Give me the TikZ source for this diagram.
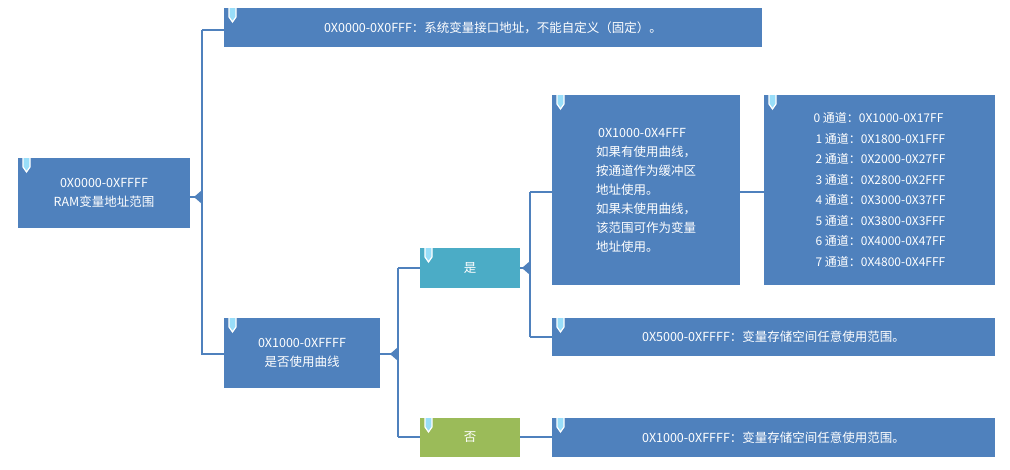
\documentclass[tikz,border=0pt]{standalone}
\usepackage{fontspec}
\setmainfont{Noto Sans CJK SC}
\begin{document}
\begin{tikzpicture}[x=1pt,y=-1pt,
  bx/.style={fill=blu,text=white,inner sep=0pt,font=\fontsize{12.5}{19}\selectfont,align=center},
  ln/.style={draw=blu,line width=1.6pt},
  ]
\definecolor{blu}{HTML}{4F81BD}
\definecolor{teal}{HTML}{4BACC6}
\definecolor{grn}{HTML}{9BBB59}
\useasboundingbox (0,0) rectangle (1010,469);
\newcommand{\pin}[2]{\draw[white,line width=1.2pt,fill=cyan!40!white] (#1+5,#2) -- (#1+5,#2+9) -- (#1+8.5,#2+14) -- (#1+12,#2+9) -- (#1+12,#2);}
\newcommand{\ptr}[3]{\fill[#3] (#1,#2-7) -- (#1-8,#2) -- (#1,#2+7) -- cycle;}
% lines
\draw[ln] (202,30) -- (202,355);
\draw[ln] (202,30) -- (224,30);
\draw[ln] (190,197) -- (202,197);
\draw[ln] (202,354) -- (224,354);
\draw[ln] (380,354) -- (398,354);
\draw[ln] (398,268) -- (398,437);
\draw[ln] (398,268) -- (420,268);
\draw[ln] (398,437) -- (420,437);
\draw[ln] (520,268) -- (530,268);
\draw[ln] (530,192) -- (530,337);
\draw[ln] (530,192) -- (552,192);
\draw[ln] (530,337) -- (552,337);
\draw[ln] (740,192) -- (764,192);
\draw[ln] (520,437) -- (552,437);
% boxes
\node[bx,minimum width=172,minimum height=70] (root) at (104,193) {0X0000-0XFFFF\\RAM变量地址范围};
\node[bx,minimum width=538,minimum height=39] (b1) at (493,27.5) {0X0000-0X0FFF：系统变量接口地址，不能自定义（固定）。};
\node[bx,minimum width=156,minimum height=70] (b2) at (302,353) {0X1000-0XFFFF\\是否使用曲线};
\node[bx,fill=teal,minimum width=100,minimum height=40] (yes) at (470,268) {是};
\node[bx,fill=grn,minimum width=100,minimum height=39] (no) at (470,437.5) {否};
\node[bx,minimum width=188,minimum height=190,align=left] (b3) at (646,190) {\,0X1000-0X4FFF\\如果有使用曲线，\\按通道作为缓冲区\\地址使用。\\如果未使用曲线，\\该范围可作为变量\\地址使用。};
\node[bx,minimum width=231,minimum height=190,align=left,font=\fontsize{12}{20.5}\selectfont] (b4) at (879.5,190) {0 通道：0X1000-0X17FF\\\,1 通道：0X1800-0X1FFF\\\,2 通道：0X2000-0X27FF\\\,3 通道：0X2800-0X2FFF\\\,4 通道：0X3000-0X37FF\\\,5 通道：0X3800-0X3FFF\\\,6 通道：0X4000-0X47FF\\\,7 通道：0X4800-0X4FFF};
\node[bx,minimum width=443,minimum height=38] (b5) at (773.5,337) {0X5000-0XFFFF：变量存储空间任意使用范围。};
\node[bx,minimum width=443,minimum height=39] (b6) at (773.5,437.5) {0X1000-0XFFFF：变量存储空间任意使用范围。};
% pointers
\ptr{202}{197}{blu}
\ptr{398}{354}{blu}
\ptr{530}{268}{blu}
% pins
\pin{18}{158}
\pin{224}{8}
\pin{224}{318}
\pin{420}{248}
\pin{420}{418}
\pin{552}{95}
\pin{764}{95}
\pin{552}{318}
\pin{552}{418}
\end{tikzpicture}
\end{document}
